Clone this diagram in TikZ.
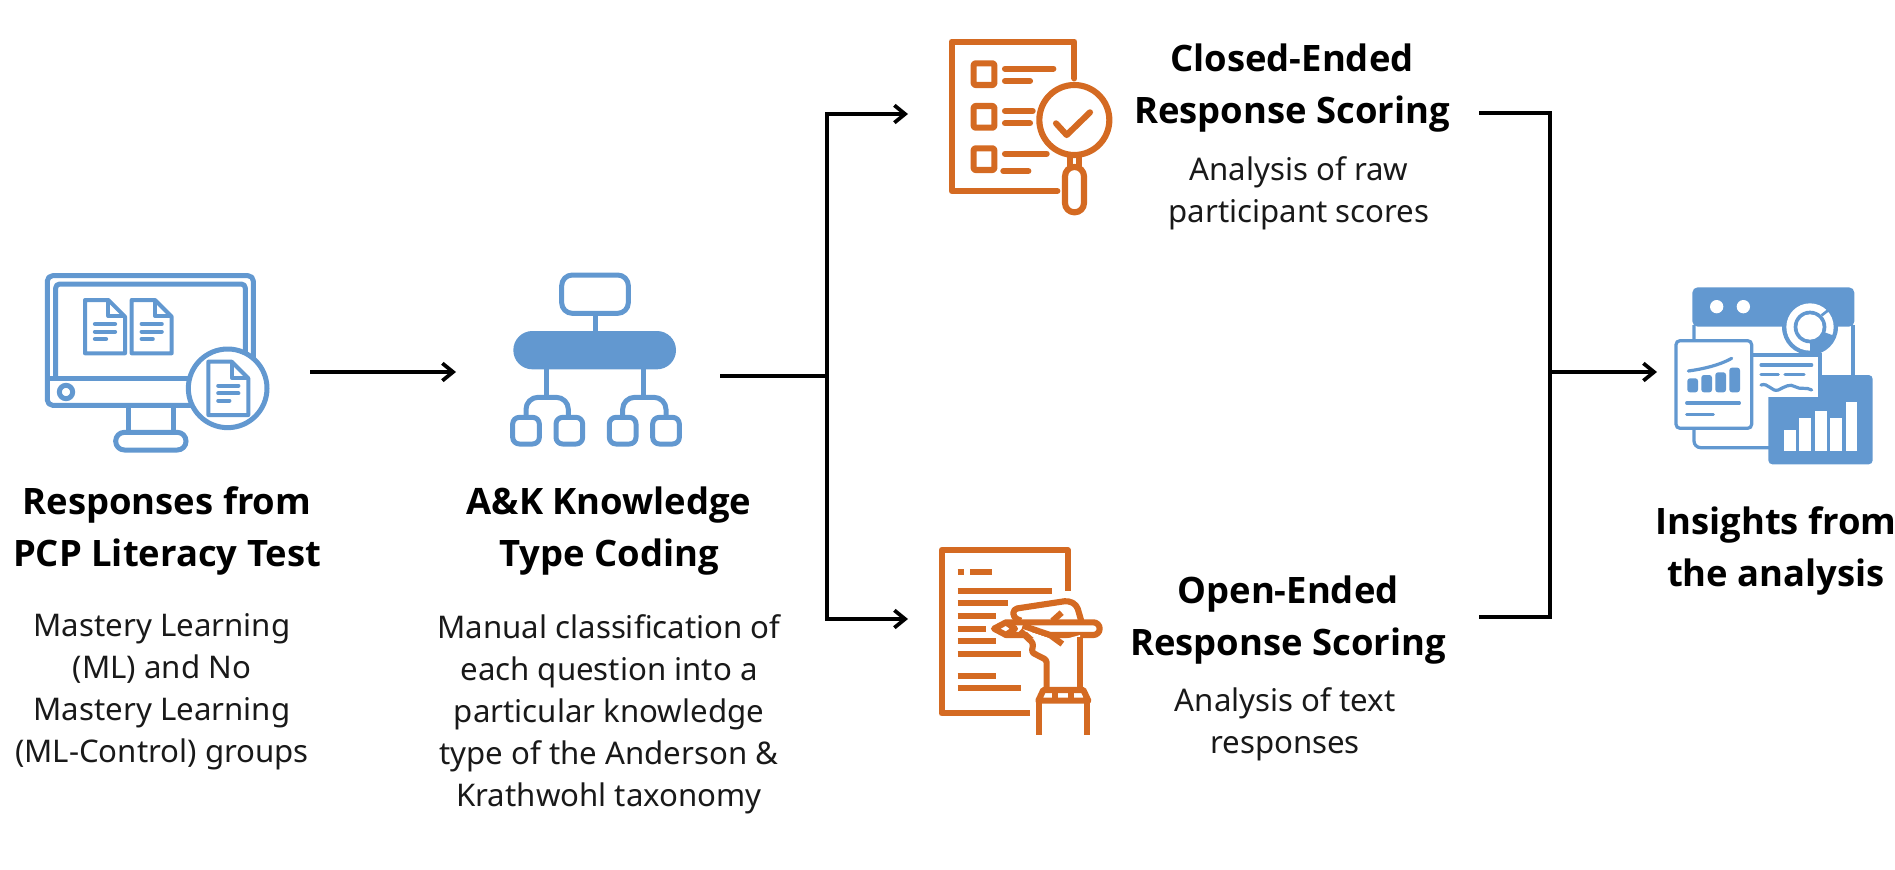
\documentclass[tikz,border=0pt]{standalone}
\usepackage{fontspec}
\setmainfont{Noto Sans}
\newfontfamily\headfont{Open Sans}
\usepackage{xcolor}
\usetikzlibrary{arrows.meta, positioning, calc}
\definecolor{iconblue}{HTML}{6298D0}
\definecolor{iconorange}{HTML}{D46A22}

\tikzset{
   docpic/.pic={
      \draw[blueline, line width=3pt, fill=white] (0,0) -- (70,0) -- (120,50) -- (120,160) -- (0,160) -- cycle;
      \draw[blueline, line width=3pt] (70,0) -- (70,48) -- (120,48);
      \draw[blueline, line width=3.2pt, line cap=round] (30,72) -- (90,72) (30,95) -- (90,95) (30,117) -- (63,117);
   },
   blueline/.style={draw=iconblue, line width=3.75pt, line join=round},
   orangeline/.style={draw=iconorange, line width=4.6pt, line join=round},
}

\begin{document}
\begin{tikzpicture}[
   x=0.75pt, y=-0.75pt,
   >={Straight Barb[length=8pt, width=13pt, line width=2.8pt]},
   head/.style={font=\headfont\fontsize{27.3}{39}\selectfont\bfseries, align=center, text=black, inner sep=0pt},
   body/.style={font=\fontsize{23.4}{31.5}\selectfont, align=center, text=black!90, inner sep=0pt},
   flow/.style={line width=2.6pt, draw=black},
]
\useasboundingbox (0,0) rectangle (1895,870);

% ---- monitor ----
\begin{scope}[shift={(30,260)}, x=0.25pt, y=-0.25pt]
\draw[blueline, rounded corners=4pt] (52,47) rectangle (670,436);
\draw[blueline, rounded corners=3pt] (77,355) -- (77,72) -- (646,72) -- (646,355);
\draw[blueline] (52,355) -- (670,355);
\draw[blueline] (108,396) circle (20);
\draw[blueline] (295,436) -- (295,515) (430,436) -- (430,515);
\draw[blueline, rounded corners=6.5pt] (257,517) rectangle (468,570);
\draw[blueline, fill=white] (593,385) circle (118);
\pic at (165,120) {docpic};
\pic at (305,120) {docpic};
\pic at (535,305) {docpic};
\end{scope}

% ---- hierarchy ----
\begin{scope}[shift={(490,260)}, x=0.25pt, y=-0.25pt]
\draw[blueline, rounded corners=8pt] (215,45) rectangle (415,160);
\draw[blueline] (315,160) -- (315,215);
\fill[iconblue, rounded corners=14.3pt] (70,213) rectangle (558,328);
\draw[blueline] (168,328) -- (168,410) (460,328) -- (460,410);
\draw[blueline, rounded corners=9pt] (108,470) -- (108,412) -- (235,412) -- (235,470);
\draw[blueline, rounded corners=9pt] (398,470) -- (398,412) -- (528,412) -- (528,470);
\foreach \bx in {68,198,358,488}
   \draw[blueline, rounded corners=5pt] (\bx,472) rectangle ++(80,80);
\end{scope}

% ---- checklist ----
\begin{scope}[shift={(930,25)}, x=0.25pt, y=-0.25pt]
\draw[orangeline, line cap=round] (382,498) -- (65,498) -- (65,50) -- (433,50) -- (433,160);
\foreach \by in {115,243,370}
   \draw[orangeline, rounded corners=1.5pt] (131,\by) rectangle ++(62,65);
\draw[orangeline, line cap=round] (225,131) -- (370,131) (225,168) -- (300,168) (225,258) -- (308,258)
   (225,295) -- (300,295) (225,386) -- (350,386) (220,438) -- (295,438);
\draw[orangeline] (433,285) circle (105);
\draw[orangeline, line cap=round] (378,295) -- (410,330) -- (480,262);
\draw[orangeline] (421,392) -- (421,425) (447,392) -- (447,425);
\draw[orangeline, fill=white, rounded corners=7pt] (405,426) rectangle (462,562);
\end{scope}

% ---- writing hand ----
\begin{scope}[shift={(925,535)}, x=0.25pt, y=-0.25pt]
\draw[orangeline] (315,535) -- (50,535) -- (50,45) -- (428,45) -- (428,167);
\draw[orangeline] (98,110) -- (117,110) (136,110) -- (202,110) (98,167) -- (382,167) (98,205) -- (250,205)
   (98,243) -- (212,243) (98,281) -- (184,281) (98,319) -- (212,319) (98,357) -- (288,357)
   (98,422) -- (212,422) (98,460) -- (288,460);
\fill[white] (270,225) -- (430,197) -- (465,260) -- (465,470) -- (365,470) -- (365,375) -- (320,350) -- (285,290) -- cycle;
\draw[orangeline, fill=white] (207,281) -- (243,262) -- (505,262) arc[start angle=-90, end angle=90, radius=19] -- (243,300) -- cycle;
\draw[orangeline] (243,262) -- (270,281) -- (243,300);
\draw[orangeline, rounded corners=3pt] (288,257) -- (265,248) -- (265,222) -- (430,197) -- (455,210) -- (470,262);
\draw[orangeline] (410,233) -- (382,258);
\fill[white] (300,285) -- (400,318) -- (465,300) -- (465,330) -- (350,330) -- cycle;
\draw[orangeline] (293,272) -- (375,300) -- (412,327);
\draw[orangeline, rounded corners=2pt] (285,287) -- (325,325) -- (320,352) -- (365,375) -- (365,465);
\draw[orangeline] (465,305) -- (465,465);
\draw[orangeline] (355,465) -- (475,465) -- (490,497) -- (340,497) -- cycle;
\draw[orangeline] (390,465) -- (390,497) (437,465) -- (437,497);
\draw[orangeline] (343,497) -- (343,600) (485,497) -- (485,600);
\end{scope}

% ---- dashboard ----
\begin{scope}[shift={(1660,275)}, x=0.25pt, y=-0.25pt]
\fill[iconblue, rounded corners=4pt] (97,155) -- (97,37) -- (583,37) -- (583,155) -- cycle;
\draw[draw=iconblue, line width=2.4pt, rounded corners=5pt] (102,150) -- (102,518) -- (340,518);
\draw[draw=iconblue, line width=2.4pt] (579,150) -- (579,310);
\fill[white] (170,95) circle (20) (250,95) circle (20);
\fill[iconblue] (450,156) circle (84);
\fill[white] (450,156) circle (71);
\fill[iconblue] (450,156) -- ++(20:74) arc[start angle=20, end angle=90, radius=74] -- cycle;
\fill[iconblue] (450,156) circle (49);
\fill[white] (450,156) circle (38);
\draw[draw=iconblue, line width=2pt] (485,121) -- (512,100);
\fill[iconblue, rounded corners=3pt] (325,300) rectangle (638,568);
\fill[white] (280,243) rectangle (475,365);
\draw[draw=iconblue, line width=2.4pt] (280,240) -- (480,240) -- (480,310);
\foreach \bx/\by in {372/465,418/428,465/407,511/430,557/380}
   \fill[white] (\bx,\by) rectangle ++(35,{527-\by});
\draw[draw=iconblue, line width=2.4pt, line cap=round] (303,270) -- (455,270) (303,298) -- (355,298) (375,298) -- (432,298);
\draw[draw=iconblue, line width=2.4pt, line cap=round] (303,330) .. controls (325,322) and (335,352) .. (355,345)
   .. controls (375,335) and (390,325) .. (405,335) .. controls (420,345) and (440,335) .. (455,345);
\draw[draw=iconblue, line width=2.4pt, fill=white, rounded corners=3pt] (48,197) rectangle (275,460);
\draw[draw=iconblue, line width=2.4pt, line cap=round] (85,288) .. controls (130,282) and (180,270) .. (215,250);
\foreach \bx/\by in {82/310,124/300,166/292,208/278}
   \fill[iconblue, rounded corners=2pt] (\bx,\by) rectangle ++(32,{352-\by});
\draw[draw=iconblue, line width=2.4pt, line cap=round] (80,384) -- (238,384) (80,418) -- (160,418);
\end{scope}

% ---- texts ----
\node[head] (resp) at (167,531) {Responses from\\PCP Literacy Test};
\node[body] (resptxt) at (162,692) {Mastery Learning\\(ML) and No\\Mastery Learning\\(ML-Control) groups};
\node[head] (coding) at (609,531) {A\&K Knowledge\\Type Coding};
\node[body] (codingtxt) at (609,714) {Manual classification of\\each question into a\\particular knowledge\\type of the Anderson \&\\Krathwohl taxonomy};
\node[head] (closed) at (1292,88) {Closed-Ended\\Response Scoring};
\node[body] (closedtxt) at (1299,193) {Analysis of raw\\participant scores};
\node[head] (open) at (1288,620) {Open-Ended\\Response Scoring};
\node[body] (opentxt) at (1285,724) {Analysis of text\\responses};
\node[head] (insight) at (1776,551) {Insights from\\the analysis};

% ---- connectors ----
\coordinate (monout) at (310,372);
\coordinate (treein) at (456,372);
\coordinate (treeout) at (720,376);
\coordinate (split) at (827,376);
\coordinate (closedin) at (908,114);
\coordinate (openin) at (908,619);
\coordinate (closedout) at (1479,113);
\coordinate (openout) at (1479,617);
\coordinate (merge) at (1550,372);
\coordinate (dashin) at (1657,372);

\draw[->, flow] (monout) -- (treein);
\draw[flow] (treeout) -- (split);
\draw[->, flow] (split) |- (closedin);
\draw[->, flow] (split) |- (openin);
\draw[flow] (closedout) -| (merge);
\draw[flow] (openout) -| (merge);
\draw[->, flow] (merge) -- (dashin);
\end{tikzpicture}
\end{document}
